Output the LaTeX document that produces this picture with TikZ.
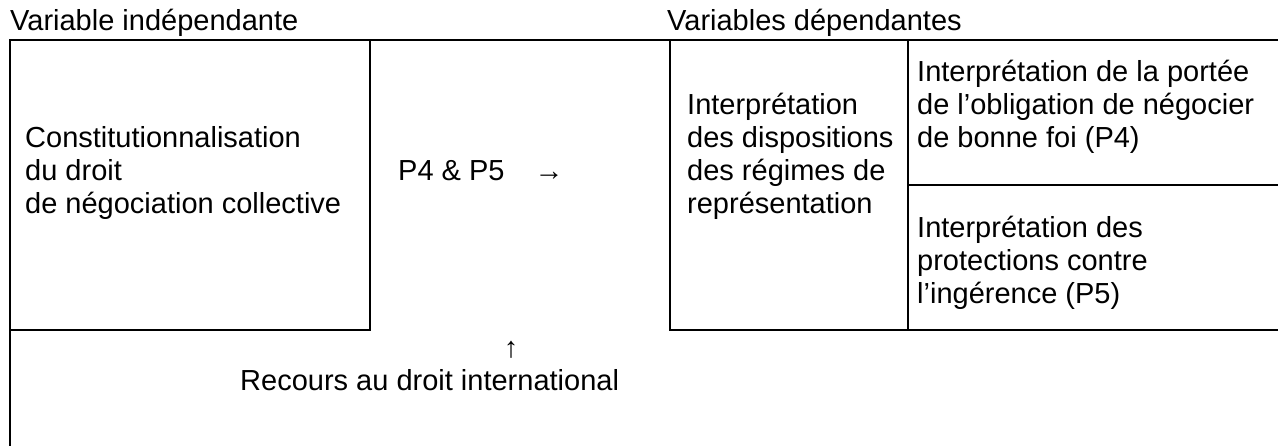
\documentclass[tikz,border=0pt]{standalone}
\usepackage{fontspec}
\setmainfont{Liberation Sans}
\newcommand\lstrut{\rule[-6pt]{0pt}{27pt}}
\begin{document}
\begin{tikzpicture}[x=1pt,y=-1pt,
  frame/.style={line width=2.5pt, line cap=rect},
  txt/.style={inner sep=0pt, align=left, font=\fontsize{29}{33}\selectfont, anchor=north west},
  hdr/.style={inner sep=0pt, font=\fontsize{29}{33}\selectfont, anchor=base west}]
\useasboundingbox (0,0) rectangle (1278,445);
% frame lines
\draw[frame] (10,450) -- (10,40) -- (1290,40);
\draw[frame] (370,40) -- (370,330) -- (10,330);
\draw[frame] (1290,330) -- (670,330) -- (670,40);
\draw[frame] (908,40) -- (908,330);
\draw[frame] (908,185) -- (1290,185);
% headers
\node[hdr] (vi) at (10,30) {Variable indépendante};
\node[hdr] (vd) at (667,30) {Variables dépendantes};
% cells
\node[txt] (cons) at (25,126) {\lstrut Constitutionnalisation\\du droit\\de négociation collective\lstrut};
\node[hdr] (p45) at (398,180) {P4 \& P5\hspace{30pt}→};
\node[txt] (disp) at (687,93) {\lstrut Interprétation\\des dispositions\\des régimes de\\représentation\lstrut};
\node[txt] (p4) at (917,60) {\lstrut Interprétation de la portée\\de l’obligation de négocier\\de bonne foi (P4)\lstrut};
\node[txt] (p5) at (917,216) {\lstrut Interprétation des\\protections contre\\l’ingérence (P5)\lstrut};
\node[inner sep=0pt, font=\fontsize{29}{33}\selectfont] (up) at (511,350) {↑};
\node[hdr] (rec) at (240,390) {Recours au droit international};
\end{tikzpicture}
\end{document}
